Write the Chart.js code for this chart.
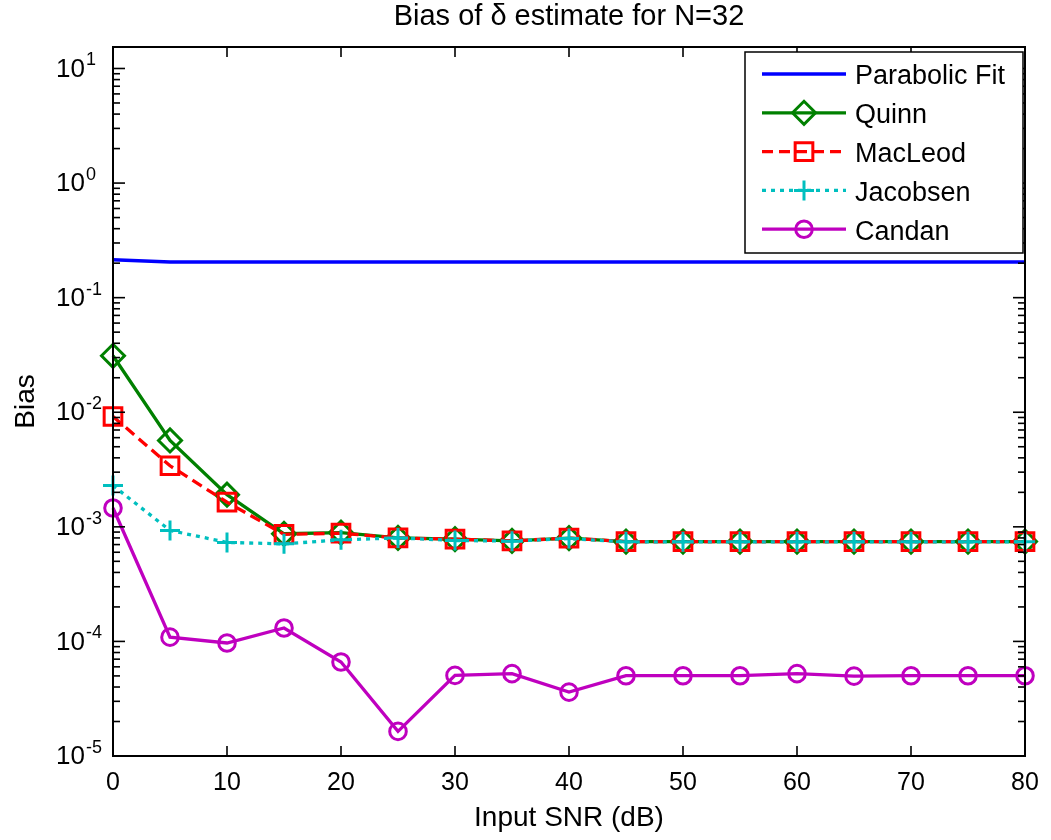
<!DOCTYPE html>
<html><head><meta charset="utf-8">
<script src="https://cdn.jsdelivr.net/npm/chart.js@4.4.1/dist/chart.umd.min.js"></script>
<style>html,body{margin:0;padding:0;background:#fff}#wrap{width:1051px;height:840px;position:relative}</style>
</head><body><div id="wrap"><canvas id="c"></canvas></div>
<script>
// ---- data ----
const snrDb = [0,5,10,15,20,25,30,35,40,45,50,55,60,65,70,75,80];
const parabolicFit = [0.214,0.205,0.205,0.205,0.205,0.205,0.205,0.205,0.205,0.205,0.205,0.205,0.205,0.205,0.205,0.205,0.205];
const quinn = [0.0311,0.00567,0.00191,0.00087,0.00089,0.00080,0.00078,0.000755,0.000797,0.000744,0.000744,0.000744,0.000744,0.000744,0.000744,0.000744,0.000744];
const macleod = [0.00918,0.00341,0.00164,0.00086,0.00088,0.00080,0.00078,0.000755,0.000797,0.000744,0.000744,0.000744,0.000744,0.000744,0.000744,0.000744,0.000744];
const jacobsen = [0.00229,0.00093,0.000731,0.00071,0.00077,0.00080,0.00076,0.00075,0.00079,0.00074,0.00074,0.00074,0.00074,0.00074,0.00074,0.00074,0.00074];
const candan = [0.00146,0.000109,0.0000969,0.000131,0.0000661,0.0000164,0.0000505,0.0000523,0.0000361,0.0000502,0.0000502,0.0000502,0.0000523,0.0000498,0.0000502,0.0000502,0.0000502];
const seriesNames = ['Parabolic Fit','Quinn','MacLeod','Jacobsen','Candan'];
const xTicks = [0,10,20,30,40,50,60,70,80];
const yTickBase = '10';
const yTickExponents = [-5,-4,-3,-2,-1,0,1];
const titleText = 'Bias of \u03B4 estimate for N=32';
const xTitle = 'Input SNR (dB)';
const yTitle = 'Bias';

const FONT = '"Liberation Sans", Arial, Helvetica, sans-serif';
const Y_MIN = 1e-5, Y_MAX = 15.4;

const pts = arr => snrDb.map((x,i)=>({x:x, y:arr[i]}));

const common = {fill:false, tension:0, clip:false, pointBackgroundColor:'rgba(0,0,0,0)', pointBorderWidth:3, pointHoverRadius:0};
const datasets = [
  Object.assign({}, common, {label:seriesNames[0], data:pts(parabolicFit), borderColor:'#0000FF', borderWidth:3.5, pointRadius:0, order:5}),
  Object.assign({}, common, {label:seriesNames[1], data:pts(quinn), borderColor:'#008000', pointBorderColor:'#008000', borderWidth:3.3, pointStyle:'rectRot', pointRadius:11.5, order:4}),
  Object.assign({}, common, {label:seriesNames[2], data:pts(macleod), borderColor:'#FF0000', pointBorderColor:'#FF0000', borderWidth:3.3, borderDash:[11,6], pointStyle:'rect', pointRadius:12.5, order:3}),
  Object.assign({}, common, {label:seriesNames[3], data:pts(jacobsen), borderColor:'#00BFBF', pointBorderColor:'#00BFBF', borderWidth:3.3, borderDash:[4,5], pointStyle:'cross', pointRadius:10, order:2}),
  Object.assign({}, common, {label:seriesNames[4], data:pts(candan), borderColor:'#BF00BF', pointBorderColor:'#BF00BF', borderWidth:3.3, pointStyle:'circle', pointRadius:8.3, order:1})
];

function line(ctx,x1,y1,x2,y2){ctx.beginPath();ctx.moveTo(x1,y1);ctx.lineTo(x2,y2);ctx.stroke();}

const axesPlugin = {
  id:'axesPlugin',
  afterDraw(chart){
    const ctx = chart.ctx;
    const {left,right,top,bottom} = chart.chartArea;
    const xs = chart.scales.x, ys = chart.scales.y;
    ctx.save();
    ctx.strokeStyle = '#000'; ctx.lineWidth = 1.6; ctx.setLineDash([]);
    // x ticks (inside, top & bottom)
    xTicks.forEach(v=>{
      const px = xs.getPixelForValue(v);
      line(ctx,px,bottom,px,bottom-10);
      line(ctx,px,top,px,top+10);
    });
    // y ticks
    yTickExponents.forEach(e=>{
      for(let k=1;k<=9;k++){
        const v = k*Math.pow(10,e);
        if(v<Y_MIN-1e-12 || v>Y_MAX) continue;
        const py = ys.getPixelForValue(v);
        const len = k===1?12:7;
        line(ctx,left,py,left+len,py);
        line(ctx,right,py,right-len,py);
      }
    });
    // box
    ctx.lineWidth = 2;
    ctx.strokeRect(left,top,right-left,bottom-top);
    // y tick labels 10^e
    ctx.fillStyle = '#000';
    yTickExponents.forEach(e=>{
      const py = ys.getPixelForValue(Math.pow(10,e));
      ctx.font = '26px '+FONT; ctx.textAlign='right'; ctx.textBaseline='middle';
      ctx.fillText(yTickBase, left-28, py+1);
      ctx.font = '18px '+FONT; ctx.textAlign='left'; ctx.textBaseline='alphabetic';
      ctx.fillText(String(e), left-27, py-3);
    });
    // legend
    const lx0 = right-280, lx1 = right-2, ly0 = top+5, ly1 = top+206;
    ctx.fillStyle='#fff'; ctx.fillRect(lx0,ly0,lx1-lx0,ly1-ly0);
    ctx.strokeStyle='#000'; ctx.lineWidth=1.5; ctx.strokeRect(lx0,ly0,lx1-lx0,ly1-ly0);
    chart.data.datasets.forEach((ds,i)=>{
      const cy = ly0 + 22 + i*38.8;
      const sx0 = lx0+17, sx1 = lx0+101, mx = (sx0+sx1)/2;
      ctx.strokeStyle = ds.borderColor; ctx.lineWidth = ds.borderWidth;
      ctx.setLineDash(ds.borderDash||[]);
      line(ctx,sx0,cy,sx1,cy);
      ctx.setLineDash([]);
      if(ds.pointRadius>0){
        ctx.fillStyle='rgba(0,0,0,0)';
        ctx.strokeStyle = ds.pointBorderColor; ctx.lineWidth = ds.pointBorderWidth;
        Chart.helpers.drawPoint(ctx,{pointStyle:ds.pointStyle, radius:ds.pointRadius, rotation:0, borderWidth:ds.pointBorderWidth}, mx, cy);
      }
      ctx.fillStyle='#000'; ctx.font='27px '+FONT; ctx.textAlign='left'; ctx.textBaseline='middle';
      ctx.fillText(ds.label, lx0+110, cy+3);
    });
    ctx.restore();
  }
};

new Chart(document.getElementById('c'), {
  type:'line',
  data:{datasets:datasets},
  options:{
    responsive:true, maintainAspectRatio:false, animation:false,
    layout:{padding:{left:0,right:26,top:0,bottom:0}},
    plugins:{
      legend:{display:false}, tooltip:{enabled:false},
      title:{display:true, text:titleText, fullSize:false, color:'#000', font:{family:FONT,size:29,weight:'normal'}, padding:{top:0,bottom:12.2}}
    },
    scales:{
      x:{type:'linear', min:0, max:80,
         grid:{display:false, drawTicks:false}, border:{display:false},
         afterBuildTicks:s=>{ s.ticks = xTicks.map(v=>({value:v})); },
         ticks:{padding:12, color:'#000', font:{family:FONT,size:25}, maxRotation:0, autoSkip:false},
         title:{display:true, text:xTitle, color:'#000', font:{family:FONT,size:28}, padding:{top:0,bottom:5}},
         afterFit:s=>{ s.height = 84; }},
      y:{type:'logarithmic', min:Y_MIN, max:Y_MAX,
         grid:{display:false, drawTicks:false}, border:{display:false},
         ticks:{display:false},
         title:{display:true, text:yTitle, color:'#000', font:{family:FONT,size:28}, padding:{top:9,bottom:0}},
         afterFit:s=>{ s.width = 113; }}
    }
  },
  plugins:[axesPlugin]
});
</script></body></html>
